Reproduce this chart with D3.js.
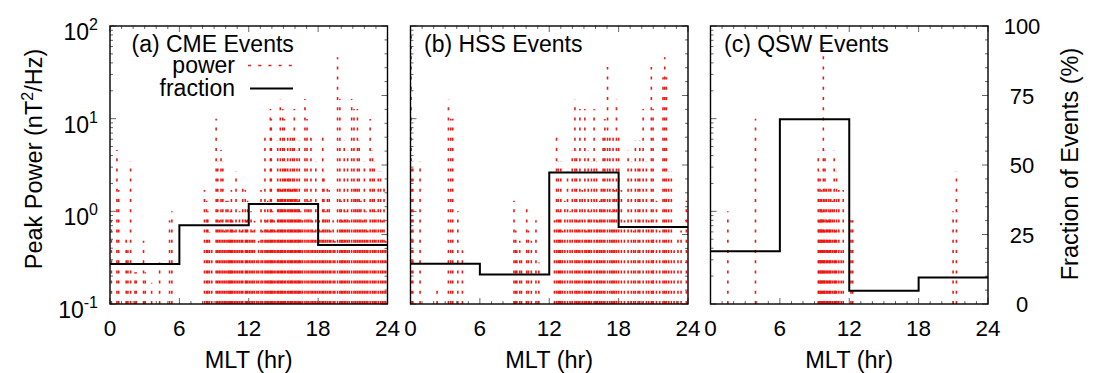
<!DOCTYPE html>
<html>
<head>
<meta charset="utf-8">
<script src="https://cdn.jsdelivr.net/npm/d3@7"></script>
<style>
  body { margin: 0; background: #fff; }
  text { font-family: "Liberation Sans", Arial, Helvetica, sans-serif; fill: #000; }
</style>
</head>
<body>
<svg id="chart" width="1096" height="373"></svg>
<script>
// ---- data -------------------------------------------------------------
// CME-driven events: MLT (hr) and peak power (nT^2/Hz)
const mltCME = [0.12,0.6,0.75,1.4,1.55,1.78,2.16,2.27,2.9,3.05,3.6,4.29,5.15,5.35,
  8.17,8.35,8.46,8.6,8.8,9.18,9.32,9.45,9.6,9.76,9.9,10.04,10.2,10.3,10.4,10.5,10.6,10.75,10.9,
  11.05,11.2,11.35,11.48,11.7,11.8,11.9,12.05,12.2,12.35,12.5,12.7,12.85,13.06,13.2,13.4,13.5,
  13.64,13.75,13.87,13.95,14.07,14.2,14.35,14.5,14.6,14.73,14.85,14.94,15.08,15.2,15.37,15.48,
  15.6,15.7,15.8,15.94,16.05,16.17,16.28,16.37,16.5,16.65,16.86,17.04,17.2,17.38,17.5,17.65,
  17.8,17.95,18.1,18.25,18.4,18.5,18.65,18.8,18.96,19.1,19.3,19.45,19.68,19.88,20.0,20.12,
  20.26,20.4,20.55,20.7,20.9,21.1,21.25,21.4,21.55,21.7,21.85,22.0,22.15,22.3,22.5,22.7,
  22.85,23.0,23.2,23.4,23.55,23.7,23.85];
const powCME = [0.8,4.6,1.7,0.5,0.38,3.5,0.22,0.22,0.48,0.22,0.17,0.28,0.8,1.0,
  1.7,1.3,1.0,0.6,0.45,10.0,3.5,0.8,4.6,3.5,0.62,1.3,1.3,0.5,1.0,1.7,0.8,0.62,2.7,
  0.5,1.0,0.62,2.1,1.7,0.8,1.3,0.5,1.0,0.62,0.79,0.3,0.48,1.7,0.62,7.4,0.8,
  1.3,0.62,12.7,9.9,1.0,0.8,0.62,5.8,2.1,16.0,1.7,12.7,9.9,3.5,7.4,2.7,
  7.4,1.7,7.4,12.7,2.1,4.5,1.3,5.8,1.0,0.8,16.3,9.9,1.3,7.4,0.8,0.62,
  3.5,0.48,0.8,0.62,7.4,2.7,1.0,2.1,1.7,0.62,0.8,0.48,46,16.3,1.3,0.8,
  5.8,1.0,4.5,0.8,16.3,12.7,2.1,12.7,5.8,1.3,0.8,3.5,1.0,0.62,9.9,4.5,
  3.5,1.0,2.7,2.7,0.8,2.1,0.48];

// HSS-driven events
const mltHSS = [0.05,0.2,0.83,2.3,3.28,3.48,3.65,4.09,4.49,
  8.95,9.1,9.2,9.45,9.6,10.05,10.2,10.45,10.85,11.1,
  12.45,12.63,12.78,12.9,13.0,13.15,13.35,13.58,13.8,13.99,14.22,14.36,14.5,14.65,14.85,15.08,
  15.2,15.37,15.5,15.65,15.88,16.09,16.2,16.37,16.5,16.66,16.81,17.04,17.24,17.4,17.52,17.65,
  17.81,18.0,18.24,18.5,18.82,19.1,19.3,19.45,19.68,19.83,20.12,20.4,20.6,20.83,20.98,21.0,
  21.27,21.55,21.84,21.99,22.13,22.33,22.56,22.8,23.13,23.4,23.86];
const powHSS = [82,3.5,3.5,0.14,16,10,10,1.0,0.38,
  1.3,0.62,0.38,0.48,0.3,1.2,0.62,0.48,0.8,0.28,
  0.8,7.4,3.5,1.0,3.5,0.62,1.3,2.7,1.0,4.5,16,4.5,0.8,12.7,1.7,12.7,
  0.62,4.5,1.0,3.5,12.7,3.5,0.8,1.3,2.1,7.4,9.9,36,7.4,1.0,7.4,1.7,
  16,7.4,1.7,0.8,4.5,3.5,0.62,5.8,3.5,5.8,12.7,3.5,0.8,36,12.7,0.5,
  1.3,0.62,28,46,28,2.7,2.7,0.38,0.5,0.62,1.3];

// Quiet solar wind events
const mltQSW = [1.5,3.89,9.32,9.38,9.47,9.55,9.6,9.7,9.76,9.84,9.9,10.04,10.1,10.24,10.3,
  10.4,10.55,10.7,10.8,10.9,11.1,11.3,11.48,12.15,12.3,20.98,21.27];
const powQSW = [1.0,10,4.5,0.8,2.7,1.3,1.7,1.0,59,0.62,4.5,2.1,0.8,2.1,1.0,
  2.1,1.3,4.5,0.62,2.7,1.7,0.38,1.7,0.8,0.8,1.0,2.7];

// Fraction of events (%) in 6-hour MLT bins
const binStarts = [0, 6, 12, 18];
const fracCME = [14.4, 28.3, 36.0, 21.2];
const fracHSS = [14.5, 10.6, 47.3, 27.7];
const fracQSW = [19.0, 66.5, 4.8, 9.5];

const panelTitles = ["(a) CME Events", "(b) HSS Events", "(c) QSW Events"];
const xTicks = [0, 6, 12, 18, 24];
const yExponents = [-1, 0, 1, 2];
const y2Ticks = [0, 25, 50, 75, 100];

// ---- layout -----------------------------------------------------------
const svg = d3.select("#chart");
const W = 277.5, H = 278, topY = 26;
const lefts = [110, 410.5, 710.5];
const red = "#ec1a14";

const x = d3.scaleLinear().domain([0, 24]).range([0, W]);
const y = d3.scaleLog().domain([0.1, 100]).range([H, 0]);
const y2 = d3.scaleLinear().domain([0, 100]).range([H, 0]);

const panels = [
  { mlt: mltCME, pow: powCME, frac: fracCME },
  { mlt: mltHSS, pow: powHSS, frac: fracHSS },
  { mlt: mltQSW, pow: powQSW, frac: fracQSW }
];

const minorX = d3.range(0, 25, 1).filter(v => v % 6 !== 0);
const minorY = [];
yExponents.slice(0, 3).forEach(e => { for (let k = 2; k <= 9; k++) minorY.push(k * Math.pow(10, e)); });
const minorY2 = d3.range(0, 101, 5).filter(v => v % 25 !== 0);

panels.forEach((p, i) => {
  const g = svg.append("g").attr("transform", `translate(${lefts[i]},${topY})`);

  // tick marks (all inward)
  const tickG = g.append("g").attr("stroke", "#666").attr("stroke-width", 1);
  const tk = (x1, y1, x2, y2_) => tickG.append("line")
    .attr("x1", x1).attr("y1", y1).attr("x2", x2).attr("y2", y2_);
  xTicks.forEach(v => { tk(x(v), H, x(v), H - 6); tk(x(v), 0, x(v), 6); });
  minorX.forEach(v => { tk(x(v), H, x(v), H - 3); tk(x(v), 0, x(v), 3); });
  yExponents.forEach(e => { const yy = y(Math.pow(10, e)); tk(0, yy, 6, yy); });
  minorY.forEach(v => tk(0, y(v), 3, y(v)));
  y2Ticks.forEach(v => tk(W, y2(v), W - 6, y2(v)));
  minorY2.forEach(v => tk(W, y2(v), W - 3, y2(v)));

  // peak power impulses, drawn upward from the bottom of the axis
  g.append("g").selectAll("path").data(p.mlt).join("path")
    .attr("d", (m, j) => `M${x(m)},${y(0.1)}L${x(m)},${y(p.pow[j])}`)
    .attr("fill", "none")
    .attr("stroke", red)
    .attr("stroke-width", 1.6)
    .attr("stroke-dasharray", "3 7.2");

  // fraction of events as a step line
  const stepPts = binStarts.map((b, j) => [b, p.frac[j]]).concat([[24, p.frac[p.frac.length - 1]]]);
  g.append("path")
    .datum(stepPts)
    .attr("d", d3.line().x(d => x(d[0])).y(d => y2(d[1])).curve(d3.curveStepAfter))
    .attr("fill", "none").attr("stroke", "#000").attr("stroke-width", 2);

  // frame
  g.append("rect").attr("width", W).attr("height", H)
    .attr("fill", "none").attr("stroke", "#000").attr("stroke-width", 1.4);

  // x tick labels
  g.append("g").selectAll("text").data(xTicks).join("text")
    .attr("x", d => x(d)).attr("y", H + 32)
    .attr("text-anchor", "middle").attr("font-size", 22.5)
    .text(d => d);

  // x axis title
  g.append("text").attr("x", W / 2).attr("y", H + 64)
    .attr("text-anchor", "middle").attr("font-size", 23.5).text("MLT (hr)");

  // panel title
  g.append("text").attr("x", i === 0 ? 21.5 : 13.5).attr("y", 25.5)
    .attr("font-size", 23).text(panelTitles[i]);
});

// left axis labels (powers of ten) on the first panel
const yl = svg.append("g").attr("transform", `translate(${lefts[0]},${topY})`);
yExponents.forEach(e => {
  const t = yl.append("text").attr("x", -12).attr("y", y(Math.pow(10, e)) + 14)
    .attr("text-anchor", "end").attr("font-size", 23);
  t.append("tspan").text("10");
  t.append("tspan").attr("dy", -10).attr("font-size", 16).text(e);
});

// right axis labels on the last panel
const yr = svg.append("g").attr("transform", `translate(${lefts[2] + W},${topY})`);
yr.selectAll("text").data(y2Ticks).join("text")
  .attr("x", 34).attr("y", d => y2(d) + 8)
  .attr("text-anchor", "middle").attr("font-size", 22)
  .text(d => d);

// axis titles
const lt = svg.append("text")
  .attr("transform", "translate(42,159) rotate(-90)")
  .attr("text-anchor", "middle").attr("font-size", 23.5);
lt.append("tspan").text("Peak Power (nT");
lt.append("tspan").attr("dy", -9).attr("font-size", 16).text("2");
lt.append("tspan").attr("dy", 9).text("/Hz)");

svg.append("text")
  .attr("transform", "translate(1078,164) rotate(-90)")
  .attr("text-anchor", "middle").attr("font-size", 23.5)
  .text("Fraction of Events (%)");

// legend in the first panel
const lg = svg.append("g").attr("transform", `translate(${lefts[0]},${topY})`);
lg.append("text").attr("x", 125).attr("y", 47).attr("text-anchor", "end")
  .attr("font-size", 23).text("power");
lg.append("text").attr("x", 125).attr("y", 70).attr("text-anchor", "end")
  .attr("font-size", 23).text("fraction");
lg.append("line").attr("x1", 138).attr("x2", 183).attr("y1", 39.5).attr("y2", 39.5)
  .attr("stroke", red).attr("stroke-width", 1.6).attr("stroke-dasharray", "3 7.2");
lg.append("line").attr("x1", 140).attr("x2", 183).attr("y1", 62.5).attr("y2", 62.5)
  .attr("stroke", "#000").attr("stroke-width", 2);
</script>
</body>
</html>
